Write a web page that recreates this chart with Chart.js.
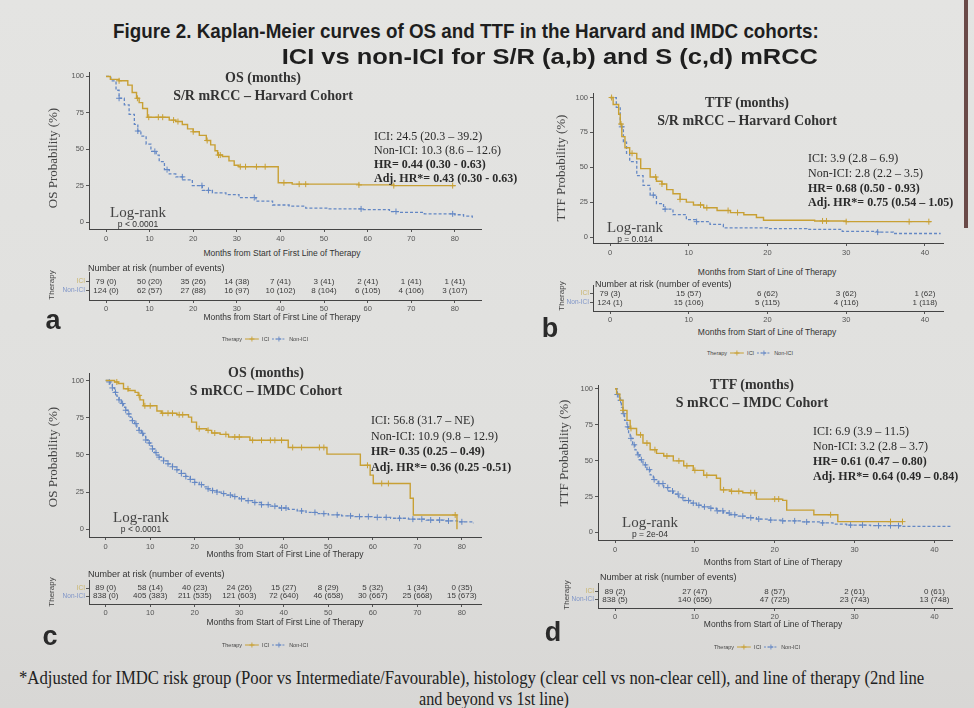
<!DOCTYPE html>
<html>
<head>
<meta charset="utf-8">
<script src="https://cdn.jsdelivr.net/npm/chart.js@4.4.0/dist/chart.umd.min.js"></script>
<style>
body { margin: 0; width: 974px; height: 708px; overflow: hidden; position: relative;
       background: linear-gradient(#e4e4e2, #e0e0de 60%, #d8d7d5); font-family: "Liberation Sans", Arial, sans-serif; }
canvas { position: absolute; }
.t { position: absolute; white-space: nowrap; line-height: 1; color: #2e2e2e; }
.serif { font-family: "Liberation Serif", "Times New Roman", serif; }
.edge { position: absolute; left: 964px; top: 0; width: 4px; height: 228px; background: #6a4a48; }
</style>
</head>
<body>
<div class="edge"></div>
<canvas id="kmA"></canvas><canvas id="riskA"></canvas>
<canvas id="kmB"></canvas><canvas id="riskB"></canvas>
<canvas id="kmC"></canvas><canvas id="riskC"></canvas>
<canvas id="kmD"></canvas><canvas id="riskD"></canvas>
<script>
// colours
const GOLD = '#c8a034';
const BLUE = '#6387c4';

// ---- (a) OS, S/R mRCC, Harvard ----
const aIciT = [0, 1, 3, 5, 6, 7, 7.6, 8.4, 9.5, 14.5, 16, 17.5, 18.7, 20, 21.4, 23, 24, 25, 25.6, 26.7, 28.2, 29.4, 30.5, 39.5, 42.7, 58, 66, 80];
const aIciS = [100, 98, 97, 94, 89, 85, 82, 78, 72, 70, 69, 67, 64, 62, 59.5, 56, 53, 49, 46, 45, 42, 39, 38, 27, 26, 25.5, 25, 24.5];
const aIciCens = [3, 7.2, 9.8, 12, 13, 15.5, 16.5, 20, 23.2, 25.8, 26.2, 30.8, 32, 34.5, 36.5, 40.8, 44.3, 45.8, 58, 66, 79.5];
const aNonT = [0, 1.1, 2.3, 3, 4.2, 5.3, 6.5, 7.3, 8, 9.2, 10.3, 11.5, 12.2, 13.4, 14.5, 16, 17.6, 19.8, 22.1, 24.4, 27.5, 30.5, 34.4, 38.2, 42, 45.8, 51, 59, 65, 67, 73, 80, 82, 84];
const aNonS = [100, 97, 90.5, 85, 80.5, 74, 67, 62.5, 59, 53.5, 48.5, 46, 41.5, 36, 33, 31, 29, 25, 21.7, 20, 18.8, 16.8, 14.4, 11.7, 10.9, 9.6, 9, 8.5, 7.2, 6.6, 5.6, 5, 4, 3];
const aNonCens = [3, 7.3, 11.2, 14, 17.5, 22, 23.5, 34, 58.5, 66.5, 79.5];
const aRiskT = [0, 10, 20, 30, 40, 50, 60, 70, 80];
const aRiskIciN = [79, 50, 35, 14, 7, 3, 2, 1, 1];
const aRiskIciE = [0, 20, 26, 38, 41, 41, 41, 41, 41];
const aRiskNonN = [124, 62, 27, 16, 10, 8, 6, 4, 3];
const aRiskNonE = [0, 57, 88, 97, 102, 104, 105, 106, 107];

// ---- (b) TTF, S/R mRCC, Harvard ----
const bIciT = [0, 0.4, 1.1, 1.3, 1.5, 1.9, 2.5, 3.4, 3.9, 5.1, 5.9, 6.6, 7.2, 8, 8.9, 9.7, 10.6, 11.9, 13.6, 15.3, 17, 18.6, 19.5, 26, 30, 40.7];
const bIciS = [100, 95, 88, 81, 72, 64, 60, 56, 49, 43, 40, 38, 34, 31, 27, 25, 23, 21, 19, 17.5, 16, 14, 12, 11.5, 11, 10.5];
const bIciCens = [0.2, 1.4, 2.8, 5.8, 6.6, 8.9, 11.5, 12.3, 15, 16.2, 27, 27.5, 30, 38, 40.5];
const bNonT = [0, 0.8, 1.3, 1.7, 2.1, 2.5, 3.4, 4.2, 5.1, 5.9, 6.8, 8, 9.7, 11, 12.7, 14.4, 20, 25, 29.5, 34, 36, 42];
const bNonS = [100, 93, 79, 68, 60, 54, 44, 37, 30, 24, 20, 16, 12.5, 11, 9, 6.5, 6, 5.5, 4, 3.5, 2.5, 2.5];
const bNonCens = [1.5, 5.5, 7, 11, 34];
const bRiskT = [0, 10, 20, 30, 40];
const bRiskIciN = [79, 15, 6, 3, 1];
const bRiskIciE = [3, 57, 62, 62, 62];
const bRiskNonN = [124, 15, 5, 4, 1];
const bRiskNonE = [1, 106, 115, 116, 118];

// ---- (c) OS, S mRCC, IMDC ----
const cIciT = [0, 2, 2.8, 4, 5.1, 6.6, 7.3, 7.7, 8.5, 11.5, 12.5, 16, 18.6, 19.3, 20.4, 22.7, 23.8, 25.7, 27.6, 32.4, 41, 49.7, 57.2, 59.4, 60.1, 68.4, 69.1, 78.9];
const cIciS = [100, 99, 98, 94.4, 93.3, 92, 90, 87, 83, 79.5, 78, 77, 75.4, 72, 67.6, 66.5, 64.7, 63.8, 62, 59.8, 55, 50.5, 43, 36.4, 30.8, 20.8, 9.6, 0];
const cIciCens = [2.5, 5, 7.5, 8.8, 10, 12.8, 14, 15, 16.5, 17.3, 21, 23, 24.5, 27, 29, 30, 33, 35, 37, 38, 39.5, 42, 44, 48, 49, 58.8, 62, 63.5, 78.5];
const cNonT = [0, 0.5, 1, 1.5, 2, 2.5, 3, 3.5, 4, 4.5, 5, 5.5, 6, 6.5, 7, 7.5, 8, 8.5, 9, 9.5, 10, 10.5, 11, 11.5, 12, 13, 14, 15, 16, 17, 18, 19, 20, 21, 22, 23, 24, 25, 26, 27, 28.5, 30, 31.5, 33, 35, 37, 39, 41, 43, 45, 47.5, 50, 53, 56, 60, 64, 68, 72, 76, 79, 82.6];
const cNonS = [100, 99, 97.8, 95, 92, 89.5, 87, 84.5, 82, 80, 77.5, 75.4, 73, 71, 68.7, 66.5, 64.5, 62.5, 60, 58, 56, 54, 51.5, 49.8, 48.5, 46, 44, 42, 40, 37.5, 35.5, 33.5, 31.5, 30, 28.5, 27.2, 26, 25, 24, 23, 22, 20.5, 19.2, 18, 16.5, 15.5, 14.3, 13.4, 12.3, 11.3, 10.5, 9.7, 9, 8.5, 8, 7.4, 6.8, 6.2, 5.6, 5, 4];
const cNonCens = [0.8, 1.5, 2.2, 3, 3.8, 4.5, 5.2, 6, 6.8, 7.5, 8.3, 9, 9.8, 10.5, 11.3, 12, 13, 14, 15, 16, 17, 18, 19, 20, 21.5, 23, 24, 25, 26.5, 28, 29, 30.5, 32, 33.5, 35, 36.5, 38, 39.5, 40.5, 44, 47, 49, 52, 55, 57, 59, 61, 63, 66, 69, 71, 73, 75, 77, 80];
const cRiskT = [0, 10, 20, 30, 40, 50, 60, 70, 80];
const cRiskIciN = [89, 58, 40, 24, 15, 8, 5, 1, 0];
const cRiskIciE = [0, 14, 23, 26, 27, 29, 32, 34, 35];
const cRiskNonN = [838, 405, 211, 121, 72, 46, 30, 25, 15];
const cRiskNonE = [0, 383, 535, 603, 640, 658, 667, 668, 673];

// ---- (d) TTF, S mRCC, IMDC ----
const dIciT = [0, 0.2, 0.6, 1, 1.5, 1.9, 2.7, 3.5, 4.4, 5.2, 6.1, 7.3, 8.6, 9.8, 11.1, 12.7, 13.2, 14.4, 16, 17.7, 21, 21.5, 24.9, 27.9, 36];
const dIciS = [100, 96.5, 92, 85, 78, 72.4, 67.9, 62.2, 57.6, 55, 53.2, 49.8, 46.4, 43.2, 39.8, 37.7, 29.6, 28.6, 27.6, 23.2, 22.3, 15.5, 12.3, 7.5, 7.5];
const dIciCens = [1, 2, 3.2, 4, 5, 6.5, 8, 9, 10, 11.5, 13.6, 14.6, 15.5, 17, 17.5, 20, 20.5, 27, 34.5, 36];
const dNonT = [0, 0.3, 0.5, 0.8, 1, 1.2, 1.5, 1.7, 1.9, 2.2, 2.5, 2.8, 3.1, 3.5, 4, 4.4, 4.8, 5.4, 6.1, 6.7, 7.3, 8, 8.6, 9.4, 10.2, 11, 11.9, 12.7, 13.6, 14.4, 15.2, 16.4, 17.7, 19.3, 21, 23.3, 25.7, 27.3, 29, 32, 35.7, 42];
const dNonS = [100, 96, 92, 87, 82.7, 78, 73.5, 69, 65.5, 61, 57.4, 54, 50.6, 47, 43.7, 40, 36.8, 34, 31.2, 28.8, 26.7, 24.2, 22.2, 20.4, 18.9, 17.8, 16.8, 15, 13.5, 12.3, 11.3, 10.2, 9.3, 8.6, 8, 7.3, 6.6, 5.8, 5.1, 4.7, 4.2, 4.2];
const dNonCens = [0.3, 0.7, 1.1, 1.6, 2, 2.4, 2.9, 3.3, 3.8, 4.3, 4.9, 5.5, 6, 6.6, 7.2, 7.9, 8.5, 9.2, 9.8, 10.5, 11.2, 12, 12.8, 13.5, 14.3, 15, 16, 17, 18, 19.5, 21, 22.5, 24, 26, 29.5, 31, 33, 34.5, 35.5];
const dRiskT = [0, 10, 20, 30, 40];
const dRiskIciN = [89, 27, 8, 2, 0];
const dRiskIciE = [2, 47, 57, 61, 61];
const dRiskNonN = [838, 140, 47, 23, 13];
const dRiskNonE = [5, 656, 725, 743, 748];

const yTicks = [0, 25, 50, 75, 100];
const xTicks80 = [0, 10, 20, 30, 40, 50, 60, 70, 80];
const xTicks40 = [0, 10, 20, 30, 40];
const riskRows = ['ICI', 'Non-ICI'];

// helpers
function survAt(ts, ss, t) {
    let v = ss[0];
    for (let i = 0; i < ts.length; i++) if (ts[i] <= t) v = ss[i];
    return v;
}
const pts = (ts, ss) => ts.map((t, i) => ({ x: t, y: ss[i] }));
const censPts = (ts, ss, cens) => cens.map(t => ({ x: t, y: survAt(ts, ss, t) }));

function place(cv, box, m) {
    const w = box.r - box.l + m.l + m.r, h = box.b - box.t + m.t + m.b;
    cv.width = w; cv.height = h;
    cv.style.left = (box.l - m.l) + 'px'; cv.style.top = (box.t - m.t) + 'px';
    cv.style.width = w + 'px'; cv.style.height = h + 'px';
}

const tickFont = { family: '"Liberation Sans", Arial, sans-serif', size: 7.5 };

function drawKM(id, box, xr, yr, xTicks, k) {
    const cv = document.getElementById(id);
    const m = { l: 34, r: 8, t: 6, b: 18 };
    place(cv, box, m);
    new Chart(cv, {
        type: 'line',
        data: {
            datasets: [
                { data: pts(k.iciT, k.iciS), stepped: true, borderColor: GOLD, borderWidth: 1.4, pointRadius: 0, fill: false },
                { data: censPts(k.iciT, k.iciS, k.iciC), showLine: false, pointStyle: 'cross', pointRadius: 3, borderColor: GOLD, borderWidth: 1 },
                { data: pts(k.nonT, k.nonS), stepped: true, borderColor: BLUE, borderWidth: 1.3, borderDash: [3, 2], pointRadius: 0, fill: false },
                { data: censPts(k.nonT, k.nonS, k.nonC), showLine: false, pointStyle: 'cross', pointRadius: 3, borderColor: BLUE, borderWidth: 1 }
            ]
        },
        options: {
            responsive: false, animation: false, devicePixelRatio: 1,
            layout: { padding: { top: m.t, right: m.r, left: 0, bottom: 0 } },
            plugins: { legend: { display: false }, tooltip: { enabled: false } },
            scales: {
                x: {
                    type: 'linear', min: xr[0], max: xr[1],
                    afterFit: s => { s.height = m.b; },
                    afterBuildTicks: s => { s.ticks = xTicks.map(v => ({ value: v })); },
                    grid: { drawOnChartArea: false, tickLength: 3, color: '#555' },
                    border: { color: '#444', width: 1 },
                    ticks: { font: tickFont, color: '#555', padding: 2, maxRotation: 0, autoSkip: false }
                },
                y: {
                    type: 'linear', min: yr[0], max: yr[1],
                    afterFit: s => { s.width = m.l; },
                    afterBuildTicks: s => { s.ticks = yTicks.map(v => ({ value: v })); },
                    grid: { drawOnChartArea: false, tickLength: 3, color: '#555' },
                    border: { color: '#444', width: 1 },
                    ticks: { font: tickFont, color: '#555', padding: 2, autoSkip: false }
                }
            }
        }
    });
}

const riskText = {
    id: 'riskText',
    afterDatasetsDraw(chart) {
        const ctx = chart.ctx;
        ctx.save();
        ctx.font = '8px "Liberation Sans", Arial, sans-serif';
        ctx.fillStyle = '#3a3a3a';
        ctx.textAlign = 'center';
        ctx.textBaseline = 'middle';
        chart.data.datasets.forEach((ds, di) => {
            chart.getDatasetMeta(di).data.forEach((el, i) => {
                const p = ds.data[i];
                ctx.fillText(`${p.n} (${p.e})`, el.x, el.y);
            });
        });
        ctx.restore();
    }
};

function drawRisk(id, box, xr, xTicks, r) {
    const cv = document.getElementById(id);
    const m = { l: 34, r: 8, t: 6, b: 13 };
    place(cv, box, m);
    const ici = r.t.map((t, i) => ({ x: t, y: 1, n: r.iciN[i], e: r.iciE[i] }));
    const non = r.t.map((t, i) => ({ x: t, y: 2, n: r.nonN[i], e: r.nonE[i] }));
    new Chart(cv, {
        type: 'line',
        data: { datasets: [
            { data: ici, showLine: false, pointRadius: 0 },
            { data: non, showLine: false, pointRadius: 0 }
        ] },
        options: {
            responsive: false, animation: false, devicePixelRatio: 1,
            layout: { padding: { top: m.t, right: m.r, left: 0, bottom: 0 } },
            plugins: { legend: { display: false }, tooltip: { enabled: false } },
            scales: {
                x: {
                    type: 'linear', min: xr[0], max: xr[1],
                    afterFit: s => { s.height = m.b; },
                    afterBuildTicks: s => { s.ticks = xTicks.map(v => ({ value: v })); },
                    grid: { drawOnChartArea: false, tickLength: 3, color: '#555' },
                    border: { color: '#444', width: 1 },
                    ticks: { font: tickFont, color: '#555', padding: 1, maxRotation: 0, autoSkip: false }
                },
                y: {
                    type: 'linear', min: 0, max: 3, reverse: true,
                    afterFit: s => { s.width = m.l; },
                    afterBuildTicks: s => { s.ticks = [{ value: 1 }, { value: 2 }]; },
                    grid: { drawOnChartArea: false, tickLength: 3, color: '#555' },
                    border: { color: '#444', width: 1 },
                    ticks: {
                        font: { family: '"Liberation Sans", Arial, sans-serif', size: 6.5 },
                        color: c => c.tick && c.tick.value === 1 ? '#c9b46a' : '#7f95c8',
                        padding: 1, autoSkip: false,
                        callback: v => riskRows[v - 1]
                    }
                }
            }
        },
        plugins: [riskText]
    });
}

// html text
function label(x, y, text, o = {}) {
    const d = document.createElement('div');
    d.className = 't' + (o.serif ? ' serif' : '');
    d.textContent = text;
    d.style.left = x + 'px';
    d.style.top = y + 'px';
    d.style.fontSize = (o.size || 10) + 'px';
    if (o.bold) d.style.fontWeight = 'bold';
    if (o.color) d.style.color = o.color;
    document.body.appendChild(d);
    const a = o.anchor || 'c';
    let tr = a === 'c' ? 'translate(-50%,-50%)' : a === 'r' ? 'translate(-100%,-50%)' : 'translate(0,-50%)';
    if (o.rot) tr += ' rotate(-90deg)';
    if (o.width) {
        d.style.transformOrigin = a === 'r' ? 'right center' : 'left center';
        tr += ` scaleX(${o.width / d.offsetWidth})`;
    }
    d.style.transform = tr;
    return d;
}

function legend(cx, y) {
    const d = document.createElement('div');
    d.className = 't';
    d.style.left = cx + 'px'; d.style.top = y + 'px';
    d.style.transform = 'translate(-50%,-50%)';
    d.style.fontSize = '5.5px'; d.style.color = '#444';
    d.style.display = 'flex'; d.style.alignItems = 'center'; d.style.gap = '3px';
    const mark = (col, dash) => `<svg width="14" height="7"><line x1="0" y1="3.5" x2="14" y2="3.5" stroke="${col}" stroke-width="1" ${dash ? 'stroke-dasharray="2 1.5"' : ''}/><path d="M7 1v5M4.5 3.5h5" stroke="${col}" stroke-width="0.9"/></svg>`;
    d.innerHTML = `<span>Therapy</span>${mark(GOLD, false)}<span>ICI</span>${mark(BLUE, true)}<span>Non-ICI</span>`;
    document.body.appendChild(d);
}

function panel(p) {
    drawKM(p.km, p.kmBox, p.xr, p.yr, p.xTicks, p.curves);
    drawRisk(p.risk, p.riskBox, p.xr, p.xTicks, p.table);
    label(p.title[0], p.title[1], p.t1, { serif: true, bold: true, size: 14, color: '#333' });
    label(p.title[0], p.title[1] + 18, p.t2, { serif: true, bold: true, size: 14, color: '#333' });
    p.ann.forEach((s, i) => label(p.annX, p.annY[i], s, { serif: true, size: 12, bold: i >= 2, anchor: 'l', color: '#2a2a2a' }));
    label(p.lr[0], p.lr[1], 'Log-rank', { serif: true, size: 15, color: '#444' });
    label(p.lr[0], p.lr[1] + 12, p.pval, { size: 8.5, color: '#333' });
    label(p.yt[0], p.yt[1], p.yTitle, { serif: true, size: 13, rot: true, color: '#444' });
    label(p.xt[0], p.xt[1], p.xTitle, { size: 8.5, color: '#333' });
    label(p.nr[0], p.nr[1], 'Number at risk (number of events)', { size: 9, anchor: 'l', color: '#333' });
    label(p.th[0], p.th[1], 'Therapy', { size: 8, rot: true, color: '#444' });
    label(p.xt[0], p.rxt, p.xTitle, { size: 8.5, color: '#333' });
    label(p.tag[0], p.tag[1], p.letter, { size: 27, bold: true, color: '#2a2a2a' });
    legend(p.lg[0], p.lg[1]);
}

panel({
    km: 'kmA', risk: 'riskA', letter: 'a',
    kmBox: { l: 89, r: 481, t: 72, b: 229 }, riskBox: { l: 89, r: 481, t: 272, b: 300 },
    xr: [-3.9, 86], yr: [-4.8, 102.7], xTicks: xTicks80,
    curves: { iciT: aIciT, iciS: aIciS, iciC: aIciCens, nonT: aNonT, nonS: aNonS, nonC: aNonCens },
    table: { t: aRiskT, iciN: aRiskIciN, iciE: aRiskIciE, nonN: aRiskNonN, nonE: aRiskNonE },
    t1: 'OS (months)', t2: 'S/R mRCC \u2013 Harvard Cohort', title: [263, 78],
    ann: ['ICI: 24.5 (20.3 \u2013 39.2)', 'Non-ICI: 10.3 (8.6 \u2013 12.6)', 'HR= 0.44 (0.30 - 0.63)', 'Adj. HR*= 0.43 (0.30 - 0.63)'],
    annX: 374, annY: [136, 150, 164, 178],
    lr: [138, 212], pval: 'p < 0.0001', yt: [52, 158], yTitle: 'OS Probability (%)',
    xt: [282, 253], xTitle: 'Months from Start of First Line of Therapy',
    nr: [88, 268], th: [52, 285], rxt: 317, tag: [53, 320], lg: [265, 339]
});

panel({
    km: 'kmB', risk: 'riskB', letter: 'b',
    kmBox: { l: 593, r: 943, t: 93, b: 243 }, riskBox: { l: 593, r: 943, t: 285, b: 311 },
    xr: [-2.16, 42.3], yr: [-4.3, 102.9], xTicks: xTicks40,
    curves: { iciT: bIciT, iciS: bIciS, iciC: bIciCens, nonT: bNonT, nonS: bNonS, nonC: bNonCens },
    table: { t: bRiskT, iciN: bRiskIciN, iciE: bRiskIciE, nonN: bRiskNonN, nonE: bRiskNonE },
    t1: 'TTF (months)', t2: 'S/R mRCC \u2013 Harvard Cohort', title: [747, 103],
    ann: ['ICI: 3.9 (2.8 \u2013 6.9)', 'Non-ICI: 2.8 (2.2 \u2013 3.5)', 'HR= 0.68 (0.50 - 0.93)', 'Adj. HR*= 0.75 (0.54 \u2013 1.05)'],
    annX: 808, annY: [158, 173, 188, 202],
    lr: [635, 227], pval: 'p = 0.014', yt: [560, 168], yTitle: 'TTF Probability (%)',
    xt: [767, 272], xTitle: 'Months from Start of Line of Therapy',
    nr: [595, 284], th: [562, 296], rxt: 332, tag: [550, 328], lg: [750, 353]
});

panel({
    km: 'kmC', risk: 'riskC', letter: 'c',
    kmBox: { l: 89, r: 481, t: 373, b: 537 }, riskBox: { l: 89, r: 481, t: 580, b: 604 },
    xr: [-3.75, 84.3], yr: [-5.2, 104.7], xTicks: xTicks80,
    curves: { iciT: cIciT, iciS: cIciS, iciC: cIciCens, nonT: cNonT, nonS: cNonS, nonC: cNonCens },
    table: { t: cRiskT, iciN: cRiskIciN, iciE: cRiskIciE, nonN: cRiskNonN, nonE: cRiskNonE },
    t1: 'OS (months)', t2: 'S mRCC \u2013 IMDC Cohort', title: [266, 373],
    ann: ['ICI: 56.8 (31.7 \u2013 NE)', 'Non-ICI: 10.9 (9.8 \u2013 12.9)', 'HR= 0.35 (0.25 \u2013 0.49)', 'Adj. HR*= 0.36 (0.25 -0.51)'],
    annX: 371, annY: [420, 436, 451, 467],
    lr: [141, 517], pval: 'p < 0.0001', yt: [52, 457], yTitle: 'OS Probability (%)',
    xt: [285, 554], xTitle: 'Months from Start of First Line of Therapy',
    nr: [88, 574], th: [52, 592], rxt: 622, tag: [50, 636], lg: [265, 645]
});

panel({
    km: 'kmD', risk: 'riskD', letter: 'd',
    kmBox: { l: 598, r: 952, t: 385, b: 540 }, riskBox: { l: 598, r: 952, t: 583, b: 608 },
    xr: [-2.13, 42.2], yr: [-5.3, 102.3], xTicks: xTicks40,
    curves: { iciT: dIciT, iciS: dIciS, iciC: dIciCens, nonT: dNonT, nonS: dNonS, nonC: dNonCens },
    table: { t: dRiskT, iciN: dRiskIciN, iciE: dRiskIciE, nonN: dRiskNonN, nonE: dRiskNonE },
    t1: 'TTF (months)', t2: 'S mRCC \u2013 IMDC Cohort', title: [752, 385],
    ann: ['ICI: 6.9 (3.9 \u2013 11.5)', 'Non-ICI: 3.2 (2.8 \u2013 3.7)', 'HR= 0.61 (0.47 \u2013 0.80)', 'Adj. HR*= 0.64 (0.49 \u2013 0.84)'],
    annX: 813, annY: [431, 446, 461, 476],
    lr: [650, 522], pval: 'p = 2e-04', yt: [563, 453], yTitle: 'TTF Probability (%)',
    xt: [773, 562], xTitle: 'Months from Start of Line of Therapy',
    nr: [600, 577], th: [567, 595], rxt: 624, tag: [553, 632], lg: [757, 647]
});

// figure title and footnote
label(113, 30, 'Figure 2. Kaplan-Meier curves of OS and TTF in the Harvard and IMDC cohorts:', { size: 21, bold: true, anchor: 'l', width: 706, color: '#1e1e1e' });
label(818, 57, 'ICI vs non-ICI for S/R (a,b) and S (c,d) mRCC', { size: 22, bold: true, anchor: 'r', width: 536, color: '#1e1e1e' });
label(19, 678, '*Adjusted for IMDC risk group (Poor vs Intermediate/Favourable), histology (clear cell vs non-clear cell), and line of therapy (2nd line', { serif: true, size: 18, anchor: 'l', width: 905, color: '#222' });
label(419, 699, 'and beyond vs 1st line)', { serif: true, size: 18, anchor: 'l', width: 150, color: '#222' });
</script>
</body>
</html>
